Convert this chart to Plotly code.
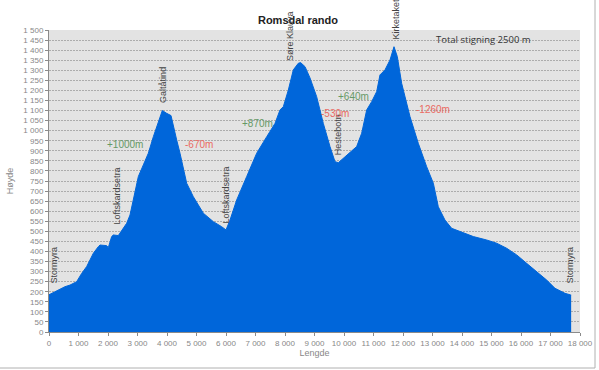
import numpy as np
import plotly.graph_objects as go

# Elevation profile (distance in m, elevation in m)
distance = [0, 34, 203, 542, 712, 938, 1107, 1277, 1503, 1672, 1729, 1955, 2011, 2124, 2181,
            2350, 2463, 2633, 2746, 2859, 3028, 3198, 3367, 3537, 3706, 3842, 3989, 4136,
            4328, 4441, 4667, 4893, 5232, 5571, 5853, 6000, 6136, 6362, 6701, 7040, 7380,
            7661, 7830, 7943, 8113, 8282, 8452, 8530, 8678, 8847, 9073, 9299, 9525, 9695,
            9808, 9977, 10203, 10429, 10599, 10769, 10938, 11108, 11220, 11390, 11559, 11695,
            11807, 11955, 12237, 12519, 12802, 13028, 13197, 13423, 13650, 13932, 14384,
            14836, 15175, 15514, 15853, 16192, 16531, 16870, 17153, 17322, 17492, 17685, 17700]
elevation = [185, 187, 200, 225, 233, 250, 291, 325, 391, 424, 432, 429, 419, 474, 482,
             479, 502, 540, 581, 656, 772, 830, 888, 970, 1045, 1100, 1086, 1075,
             954, 888, 739, 672, 590, 548, 523, 507, 556, 656, 772, 888, 970,
             1036, 1103, 1119, 1202, 1302, 1335, 1338, 1318, 1262, 1169, 1036, 921, 846,
             841, 863, 896, 921, 987, 1103, 1144, 1194, 1277, 1302, 1351, 1417,
             1368, 1235, 1070, 937, 821, 739, 622, 556, 515, 498, 474,
             457, 441, 416, 383, 341, 300, 258, 217, 205, 192, 184, 184]

# Place names
place_names = ["Stormyra", "Loftskardsetra", "Galtåtind", "Loftskardsetra", "Søre Klauva",
               "Hestebotn", "Kirketaket", "Stormyra"]
place_dist = [170, 2305, 3864, 6000, 8169, 9797, 11763, 17661]
place_elev = [228, 522, 1128, 527, 1336, 866, 1440, 228]

# Climb / descent labels
seg_text = ["+1000m", "-670m", "+870m", "-530m", "+640m", "-1260m"]
seg_dist = [2576, 5085, 7051, 9695, 10305, 13017]
seg_elev = [929, 929, 1038, 1083, 1172, 1103]
seg_kind = ["up", "down", "up", "down", "up", "down"]

total_text = "Total stigning 2500 m"

x_tickvals = list(range(0, 18001, 1000))
x_ticktext = ["0"] + [f"{v // 1000} 000" for v in x_tickvals[1:]]
y_tickvals = list(range(0, 1501, 50))
y_ticktext = [f"{v // 1000} {v % 1000:03d}" if v >= 1000 else str(v) for v in y_tickvals]

BLUE = "rgb(0,102,218)"
GREEN = "#669966"
RED = "#ea6a62"

fig = go.Figure()
fig.add_trace(go.Scatter(x=distance, y=elevation, mode="lines", fill="tozeroy",
                         line=dict(color=BLUE, width=1), fillcolor=BLUE,
                         hoverinfo="x+y", showlegend=False))

for name, d, e in zip(place_names, place_dist, place_elev):
    fig.add_annotation(x=d, y=e, text=name, textangle=-90, showarrow=False,
                       xanchor="center", yanchor="bottom",
                       font=dict(family="Liberation Sans, Arial", size=9, color="#444444"))

for t, d, e, k in zip(seg_text, seg_dist, seg_elev, seg_kind):
    fig.add_annotation(x=d, y=e, text=t, showarrow=False, xanchor="center", yanchor="middle",
                       font=dict(family="Liberation Sans, Arial", size=10,
                                 color=GREEN if k == "up" else RED))

fig.add_annotation(x=14712, y=1451, text=total_text, showarrow=False,
                   xanchor="center", yanchor="middle",
                   font=dict(family="Open Sans, Liberation Sans", size=9.5, color="#333333"))

fig.update_layout(
    width=599, height=370,
    margin=dict(l=49, r=19, t=30, b=38, autoexpand=False),
    paper_bgcolor="white", plot_bgcolor="#e3e3e3",
    title=dict(text="<b>Romsdal rando</b>", x=298 / 599, xanchor="center",
               y=1 - 20 / 370, yanchor="middle", automargin=False,
               font=dict(family="Liberation Sans, Arial", size=11, color="#222222")),
    xaxis=dict(range=[0, 18000], tickvals=x_tickvals, ticktext=x_ticktext, automargin=False,
               showgrid=False, zeroline=False, showline=True, linecolor="#8a8a8a",
               ticks="outside", ticklen=3, tickcolor="#8a8a8a",
               tickfont=dict(family="Liberation Sans, Arial", size=8, color="#888888"),
               title=dict(text="Lengde", standoff=2,
                          font=dict(family="Liberation Sans, Arial", size=9, color="#888888"))),
    yaxis=dict(range=[0, 1500], tickvals=y_tickvals, ticktext=y_ticktext, automargin=False,
               showgrid=True, gridcolor="#acacac", griddash="2px,1px", gridwidth=1,
               zeroline=False, showline=True, linecolor="#8a8a8a",
               ticks="outside", ticklen=3, tickcolor="#8a8a8a",
               tickfont=dict(family="Liberation Sans, Arial", size=8, color="#888888"),
               title=dict(text="Høyde", standoff=8,
                          font=dict(family="Liberation Sans, Arial", size=9, color="#888888"))),
    shapes=[dict(type="rect", xref="paper", yref="paper",
                 x0=-1, x1=(595 - 49) / 531, y0=-(368 - 332) / 302, y1=2,
                 line=dict(color="#b0b0b0", width=1), fillcolor="rgba(0,0,0,0)", layer="below")],
)

fig.write_html("out.html", config={"displayModeBar": False},
               post_script="document.body.style.margin='0';document.body.style.overflow='hidden';")
